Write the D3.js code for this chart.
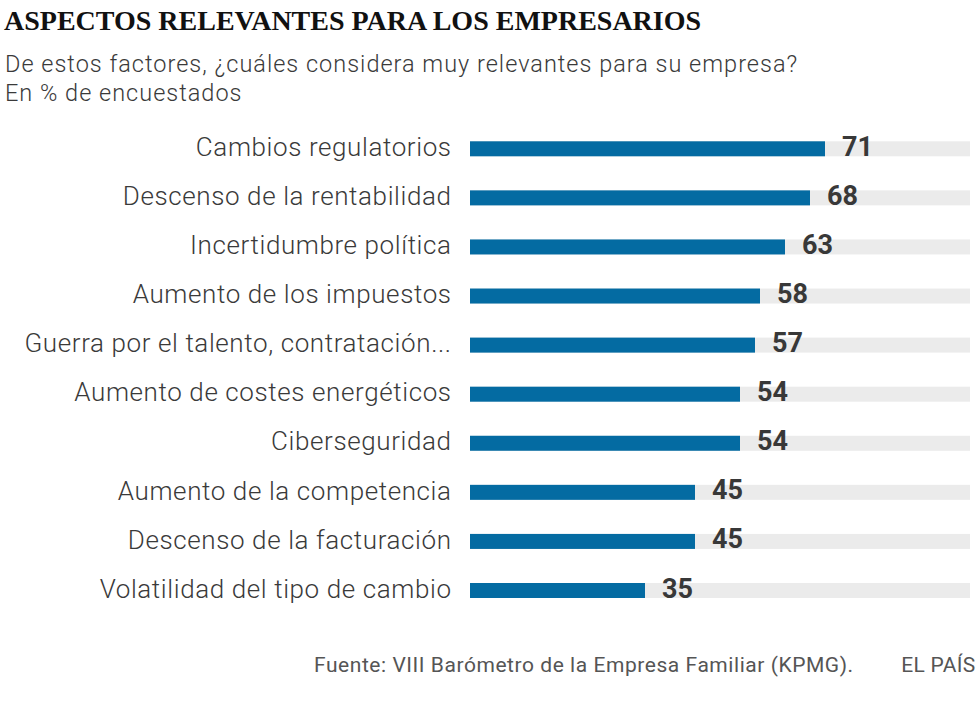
<!DOCTYPE html>
<html>
<head>
<meta charset="utf-8">
<script src="https://cdn.jsdelivr.net/npm/d3@7"></script>
<style>
  html, body { margin: 0; padding: 0; background: #fff; }
  svg { display: block; }
</style>
</head>
<body>
<div id="chart"></div>
<script>
// Data
const categories = [
  'Cambios regulatorios',
  'Descenso de la rentabilidad',
  'Incertidumbre política',
  'Aumento de los impuestos',
  'Guerra por el talento, contratación...',
  'Aumento de costes energéticos',
  'Ciberseguridad',
  'Aumento de la competencia',
  'Descenso de la facturación',
  'Volatilidad del tipo de cambio'
];
const values = [71, 68, 63, 58, 57, 54, 54, 45, 45, 35];
const maxValue = 100;

const title = 'ASPECTOS RELEVANTES PARA LOS EMPRESARIOS';
const subtitleLines = [
  'De estos factores, ¿cuáles considera muy relevantes para su empresa?',
  'En % de encuestados'
];
const sourceText = 'Fuente: VIII Barómetro de la Empresa Familiar (KPMG).';
const brandText = 'EL PAÍS';

const WIDTH = 980;
const HEIGHT = 706;
const BAR_COLOR = '#046ba2';
const TRACK_COLOR = '#ebebeb';
const TEXT_COLOR = '#3a3a3a';
const SANS = 'Roboto, "Open Sans", "Liberation Sans", sans-serif';

const svg = d3.select('#chart')
  .append('svg')
  .attr('width', WIDTH)
  .attr('height', HEIGHT);

// Scales
const x = d3.scaleLinear()
  .domain([0, maxValue])
  .range([470, 970]);

const y = d3.scaleBand()
  .domain(categories)
  .range([141.3, 598])
  .paddingInner(0.6944)
  .paddingOuter(0);

// Header
svg.append('text')
  .attr('x', 4)
  .attr('y', 29.5)
  .text(title)
  .attr('fill', '#111')
  .attr('font-family', '"Liberation Serif", "DejaVu Serif", serif')
  .attr('font-weight', 700)
  .attr('font-size', '28px');

svg.selectAll('.subtitle')
  .data(subtitleLines)
  .join('text')
  .attr('class', 'subtitle')
  .attr('x', 5)
  .attr('y', (d, i) => 71.7 + i * 29)
  .text(d => d)
  .attr('fill', TEXT_COLOR)
  .attr('font-family', SANS)
  .attr('font-weight', 300)
  .attr('font-size', '23.5px')
  .attr('letter-spacing', '1px');

// Rows
const rows = svg.selectAll('.row')
  .data(categories.map((c, i) => ({ name: c, value: values[i] })))
  .join('g')
  .attr('class', 'row')
  .attr('transform', d => `translate(0, ${y(d.name)})`);

// Background track
rows.append('rect')
  .attr('x', x(0))
  .attr('y', 0)
  .attr('width', x(maxValue) - x(0))
  .attr('height', y.bandwidth())
  .attr('fill', TRACK_COLOR);

// Value bar
rows.append('rect')
  .attr('x', x(0))
  .attr('y', 0)
  .attr('width', d => x(d.value) - x(0))
  .attr('height', y.bandwidth())
  .attr('fill', BAR_COLOR);

// Category labels (letter-spacing trails the last glyph, so shift by it)
rows.append('text')
  .attr('x', 451.6)
  .attr('y', y.bandwidth() - 0.3)
  .attr('text-anchor', 'end')
  .text(d => d.name)
  .attr('fill', TEXT_COLOR)
  .attr('font-family', SANS)
  .attr('font-weight', 300)
  .attr('font-size', '26px')
  .attr('letter-spacing', '0.6px');

// Value labels
rows.append('text')
  .attr('x', d => x(d.value) + 17)
  .attr('y', y.bandwidth() - 0.5)
  .text(d => d.value)
  .attr('fill', '#383838')
  .attr('font-family', SANS)
  .attr('font-weight', 700)
  .attr('font-size', '27px');

// Footer
svg.append('text')
  .attr('x', 314)
  .attr('y', 671.7)
  .text(sourceText)
  .attr('fill', '#555')
  .attr('font-family', SANS)
  .attr('font-weight', 400)
  .attr('font-size', '21px')
  .attr('letter-spacing', '0.55px');

svg.append('text')
  .attr('x', 975.5)
  .attr('y', 671.7)
  .attr('text-anchor', 'end')
  .text(brandText)
  .attr('fill', '#555')
  .attr('font-family', SANS)
  .attr('font-weight', 400)
  .attr('font-size', '21px')
  .attr('letter-spacing', '0.3px');
</script>
</body>
</html>
